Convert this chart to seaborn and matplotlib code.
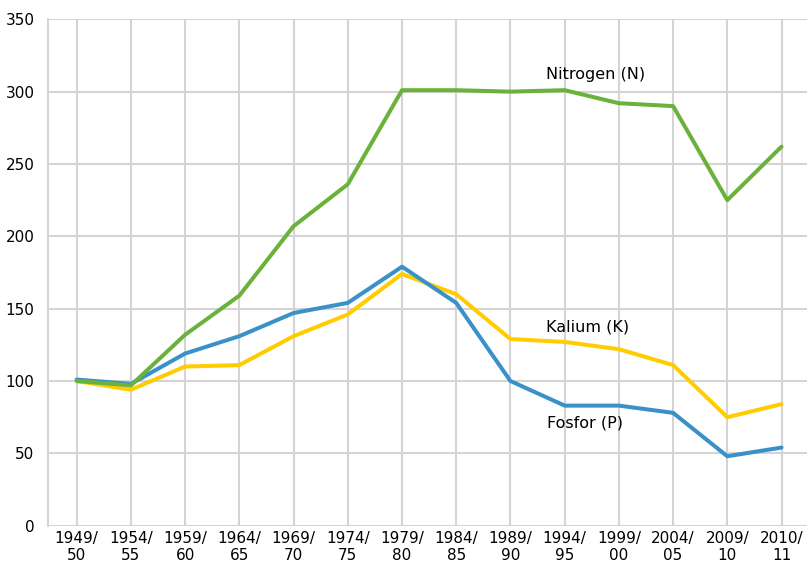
import matplotlib
matplotlib.use("Agg")
import matplotlib.pyplot as plt
import seaborn as sns
import pandas as pd

periods = ["1949/\n50", "1954/\n55", "1959/\n60", "1964/\n65", "1969/\n70", "1974/\n75",
           "1979/\n80", "1984/\n85", "1989/\n90", "1994/\n95", "1999/\n00", "2004/\n05",
           "2009/\n10", "2010/\n11"]
nitrogen = [100, 97, 132, 159, 207, 236, 301, 301, 300, 301, 292, 290, 225, 262]
kalium = [100, 94, 110, 111, 131, 146, 174, 160, 129, 127, 122, 111, 75, 84]
fosfor = [101, 98, 119, 131, 147, 154, 179, 154, 100, 83, 83, 78, 48, 54]
series_names = ["Nitrogen (N)", "Kalium (K)", "Fosfor (P)"]
colors = ["#6AB23C", "#FFCC00", "#3A91C8"]

rows = []
for name, vals in zip(series_names, [nitrogen, kalium, fosfor]):
    for i, v in enumerate(vals):
        rows.append({"idx": i, "value": v, "series": name})
df = pd.DataFrame(rows)

sns.set_style("white")
plt.rcParams["font.family"] = ["DejaVu Sans"]
plt.rcParams["text.color"] = "black"
plt.rcParams["xtick.color"] = "black"
plt.rcParams["ytick.color"] = "black"

fig = plt.figure(figsize=(8.07, 5.68), dpi=100)
ax = fig.add_axes([48.3 / 807, 42.3 / 568, 758.7 / 807, 506.4 / 568])

# draw order: yellow, blue, green on top
order = ["Kalium (K)", "Fosfor (P)", "Nitrogen (N)"]
pal = dict(zip(series_names, colors))
for name in order:
    sns.lineplot(data=df[df.series == name], x="idx", y="value", color=pal[name],
                 linewidth=2.9, ax=ax, legend=False)

ax.set_xlim(-0.524, 13.47)
ax.set_ylim(0, 350)
ax.set_yticks(range(0, 351, 50))
ax.set_xticks(range(len(periods)))
ax.set_xticklabels(periods, fontsize=11, linespacing=1.15)
ax.tick_params(axis="y", labelsize=11, length=0, pad=10, labelcolor="black")
ax.tick_params(axis="x", length=0, pad=4, labelcolor="black")
ax.set_xlabel("")
ax.set_ylabel("")
ax.grid(True, color="#d4d4d4", linewidth=1.5)
ax.set_axisbelow(True)
for s in ["top", "right", "bottom"]:
    ax.spines[s].set_visible(False)
ax.spines["left"].set_color("#d4d4d4")
ax.spines["left"].set_linewidth(1.5)

ax.text(9.57, 312, "Nitrogen (N)", ha="center", va="center", fontsize=11.5, color="black")
ax.text(9.42, 137.5, "Kalium (K)", ha="center", va="center", fontsize=11.5, color="black")
ax.text(9.38, 71, "Fosfor (P)", ha="center", va="center", fontsize=11.5, color="black")

fig.savefig("out.png", dpi=100)
